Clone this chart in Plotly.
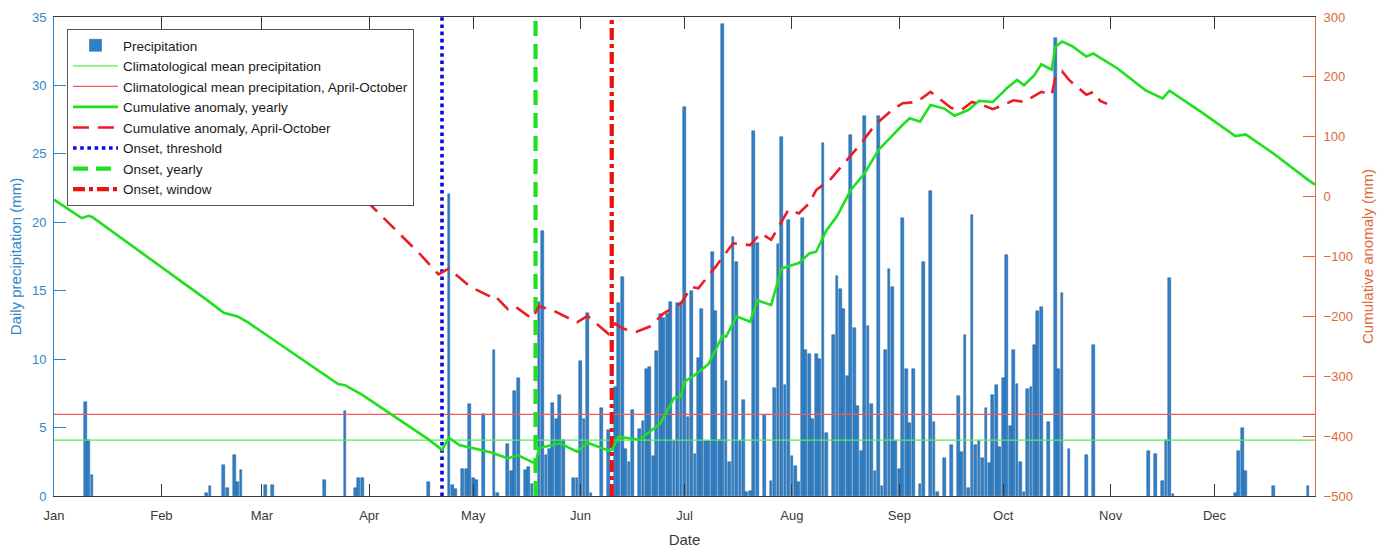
import pandas as pd
import plotly.graph_objects as go

YEAR_START = pd.Timestamp("2016-01-01")

month_labels = ["Jan", "Feb", "Mar", "Apr", "May", "Jun",
                "Jul", "Aug", "Sep", "Oct", "Nov", "Dec"]

# daily precipitation: day offset from 1 January, amount (mm)
rain_day = [9, 10, 11,
            44, 45, 49, 50, 52, 53, 54,
            61, 63, 78, 84, 87, 88, 89,
            108, 114, 115, 116, 118, 119, 120,
            121, 122, 124, 127, 128, 131, 132, 133, 134, 136, 137, 138, 140, 141, 142,
            143, 144, 145, 146, 147, 150, 151,
            152, 153, 154, 155, 158, 160, 162, 163, 164, 165, 166, 167, 169, 170, 171,
            172, 173, 174, 175, 176, 177, 178, 179, 180, 181,
            182, 183, 184, 185, 186, 187, 188, 189, 190, 191, 192, 193, 194, 195, 196,
            197, 198, 199, 200, 201, 202, 203, 205, 207, 208, 209, 210, 211, 212,
            213, 214, 215, 216, 217, 218, 219, 220, 221, 222, 223, 225, 226, 227, 228,
            229, 230, 231, 232, 233, 234, 235, 236, 237, 238, 239, 240, 241, 242, 243,
            244, 245, 246, 247, 248, 250, 251, 253, 254, 255, 257, 259, 261, 262, 263,
            264, 265, 266, 267, 268, 269, 270, 271, 272, 273,
            274, 275, 276, 277, 278, 279, 280, 281, 282, 283, 284, 285, 287, 289, 290,
            291, 293, 298, 300,
            316, 318, 320, 321, 322, 323,
            341, 342, 343, 344, 352, 362]
rain_mm = [6.9, 4.1, 1.5,
           0.2, 0.7, 2.3, 0.6, 3.0, 1.0, 1.9,
           0.8, 0.8, 1.2, 6.2, 0.6, 1.3, 1.3,
           1.0, 22.1, 0.8, 0.5, 2.0, 2.0, 6.7,
           1.3, 1.2, 6.0, 10.7, 0.25, 3.8, 1.8, 7.7, 8.6, 1.9, 2.1, 0.9, 14.2, 19.4, 3.0,
           3.4, 6.8, 5.6, 7.4, 4.1, 1.3, 1.3,
           9.9, 5.6, 13.4, 0.25, 6.4, 4.8, 8.0, 14.1, 16.0, 3.4, 2.5, 6.3, 4.9, 5.5, 9.3,
           9.4, 2.9, 10.6, 13.3, 13.0, 13.3, 14.2, 4.0, 14.1, 14.2,
           28.4, 5.8, 15.0, 3.1, 10.1, 13.7, 4.0, 4.0, 17.8, 13.5, 4.1, 34.5, 8.4, 2.5, 18.9,
           17.1, 4.0, 7.0, 0.3, 0.4, 26.7, 18.5, 5.9, 1.1, 7.9, 18.4, 26.2, 8.1, 20.2,
           2.9, 2.2, 1.0, 20.3, 10.7, 10.4, 5.6, 10.4, 10.0, 25.8, 4.6, 11.8, 16.1, 15.1, 13.7,
           8.8, 26.4, 12.3, 6.6, 3.3, 27.8, 12.4, 6.7, 1.8, 27.8, 0.7, 10.7, 16.6, 15.3, 4.0,
           2.0, 20.3, 9.3, 5.3, 9.3, 0.9, 17.1, 22.3, 5.4, 0.3, 2.8, 3.7, 7.3, 3.2, 11.8,
           0.6, 20.5, 3.7, 4.0, 2.8, 6.4, 2.4, 7.4, 8.1, 3.6,
           8.6, 17.6, 5.1, 10.7, 8.2, 2.5, 0.3, 7.8, 8.0, 11.0, 13.5, 13.8, 5.4, 33.5, 9.3,
           14.8, 3.4, 3.0, 11.0,
           3.3, 3.1, 1.1, 4.1, 15.9, 0.15,
           0.2, 3.3, 5.0, 1.8, 0.7, 0.7]

clim_mean_year = 4.09
clim_mean_aproct = 5.97

# cumulative anomaly, yearly (mm)
cum_year_day = [0, 8, 10, 11, 44, 47, 49, 53, 56, 82, 84, 89, 108, 112, 114, 117, 126,
                131, 134, 139, 140, 146, 151, 154, 160, 161, 163, 169, 173, 175, 179, 181,
                182, 185, 188, 189, 193, 194, 197, 201, 203, 207, 210, 215, 218, 220, 223,
                226, 230, 234, 238, 242, 245, 247, 250, 253, 257, 260, 264, 267, 271, 274,
                275, 278, 280, 283, 285, 288, 289, 291, 294, 298, 300, 307, 315, 320, 322,
                331, 335, 341, 344, 352, 362, 364]
cum_year_mm = [-5, -36, -32, -34, -172, -186, -194, -200, -210, -313, -315, -331, -405,
               -423, -403, -415, -427, -437, -432, -446, -420, -412, -426, -411, -424, -423,
               -401, -406, -387, -379, -336, -334, -309, -298, -284, -279, -232, -234, -200,
               -209, -173, -181, -120, -111, -95, -92, -56, -33, 11, 39, 78, 103, 120, 131,
               125, 153, 147, 135, 145, 160, 158, 175, 181, 195, 186, 203, 221, 212, 250,
               259, 251, 234, 239, 214, 178, 164, 177, 142, 126, 101, 104, 72, 28, 20]

# cumulative anomaly, April-October (mm)
cum_ao_day = [90, 106, 111, 114, 120, 126, 127, 131, 133, 138, 140, 144, 151, 154, 160,
              162, 164, 168, 172, 176, 181, 184, 186, 191, 196, 201, 204, 207, 212, 215,
              218, 220, 224, 229, 233, 237, 242, 245, 249, 253, 255, 259, 262, 265, 268,
              271, 274, 277, 280, 285, 288, 289, 291, 293, 298, 300, 302, 304]
cum_ao_mm = [-6, -98, -130, -120, -150, -167, -164, -188, -183, -204, -183, -190, -210,
             -199, -229, -212, -220, -226, -217, -195, -178, -151, -153, -117, -78, -81,
             -61, -72, -22, -28, -11, 11, 28, 61, 89, 120, 145, 156, 158, 175, 166, 148,
             145, 158, 153, 146, 153, 161, 158, 175, 170, 198, 209, 195, 170, 175, 160, 155]

onset_threshold_day = 112
onset_yearly_day = 139
onset_window_day = 161

first_day, last_day = 0, 364

left_ticks = [0, 5, 10, 15, 20, 25, 30, 35]
right_ticks = [-500, -400, -300, -200, -100, 0, 100, 200, 300]


def to_dates(days):
    return YEAR_START + pd.to_timedelta(days, unit="D")


month_starts = [pd.Timestamp(2016, m, 1) for m in range(1, 13)]
x_first = to_dates([first_day])[0]
x_last = to_dates([last_day])[0]

FONT = "Arial, Liberation Sans, Helvetica, sans-serif"
BLUE_AX = "#2f86c9"
ORANGE_AX = "#dd6a3a"
GRAY = "#3a3a3a"

fig = go.Figure()

fig.add_trace(go.Bar(
    x=to_dates(rain_day), y=rain_mm, name="Precipitation",
    width=0.8 * 86400000,
    marker=dict(color="#2f80c8", line=dict(color="#1f5d94", width=0.5)),
    yaxis="y"))

fig.add_trace(go.Scatter(
    x=[x_first, x_last], y=[clim_mean_year, clim_mean_year], mode="lines",
    name="Climatological mean precipitation",
    line=dict(color="#55ee55", width=1.2), yaxis="y"))

fig.add_trace(go.Scatter(
    x=[x_first, x_last], y=[clim_mean_aproct, clim_mean_aproct], mode="lines",
    name="Climatological mean precipitation, April-October",
    line=dict(color="#f05a5a", width=1.2), yaxis="y"))

fig.add_trace(go.Scatter(
    x=to_dates(cum_year_day), y=cum_year_mm, mode="lines",
    name="Cumulative anomaly, yearly",
    line=dict(color="#1fe01f", width=2.6), yaxis="y2"))

fig.add_trace(go.Scatter(
    x=to_dates(cum_ao_day), y=cum_ao_mm, mode="lines",
    name="Cumulative anomaly, April-October",
    line=dict(color="#ec1c24", width=2.6, dash="16px,9px"), yaxis="y2"))

for day, name, color, dash, w in [
        (onset_threshold_day, "Onset, threshold", "#0a0ae6", "dot", 3.6),
        (onset_yearly_day, "Onset, yearly", "#1fe01f", "15px,8px", 4.2),
        (onset_window_day, "Onset, window", "#ee1111", "12px,4px,4px,4px", 4.2)]:
    d = to_dates([day])[0]
    fig.add_trace(go.Scatter(
        x=[d, d], y=[left_ticks[0], left_ticks[-1]], mode="lines", name=name,
        line=dict(color=color, width=w, dash=dash), yaxis="y"))

fig.update_layout(
    width=1395, height=548,
    margin=dict(l=54, r=80, t=17, b=52, autoexpand=False),
    paper_bgcolor="white", plot_bgcolor="white",
    font=dict(family=FONT, size=13, color=GRAY),
    bargap=0,
    showlegend=True,
    legend=dict(x=0.0103, y=0.975, xanchor="left", yanchor="top",
                bgcolor="white", bordercolor="#555555", borderwidth=1,
                font=dict(family=FONT, size=13.5, color="#1a1a1a"),
                itemwidth=45, tracegroupgap=0),
    xaxis=dict(
        type="date", range=[x_first, x_last], automargin=False,
        tickmode="array", tickvals=month_starts, ticktext=month_labels,
        ticks="inside", ticklen=12, tickcolor=GRAY, tickwidth=1,
        showline=True, linecolor=GRAY, linewidth=1, mirror="ticks",
        showgrid=False, zeroline=False,
        tickfont=dict(size=13, color=GRAY),
        ticklabelstandoff=7,
        title=dict(text="Date", font=dict(size=15, color=GRAY), standoff=12)),
    yaxis=dict(
        range=[0, 35], tickvals=left_ticks, automargin=False,
        ticks="inside", ticklen=12, tickcolor=BLUE_AX, tickwidth=1,
        showline=True, linecolor=BLUE_AX, linewidth=1,
        showgrid=False, zeroline=False,
        tickfont=dict(size=13, color=BLUE_AX),
        ticklabelstandoff=4,
        title=dict(text="Daily precipitation (mm)",
                   font=dict(size=15, color=BLUE_AX), standoff=6)),
    yaxis2=dict(
        range=[-500, 300], tickvals=right_ticks, automargin=False,
        overlaying="y", side="right", anchor="x",
        ticks="inside", ticklen=12, tickcolor=ORANGE_AX, tickwidth=1,
        showline=True, linecolor=ORANGE_AX, linewidth=1,
        showgrid=False, zeroline=False,
        tickfont=dict(size=13, color=ORANGE_AX),
        ticklabelstandoff=5,
        title=dict(text="Cumulative anomaly (mm)",
                   font=dict(size=15, color=ORANGE_AX), standoff=10)),
)

fig.write_html("out.html", config={"displayModeBar": False},
               post_script="document.body.style.margin='0';document.body.style.overflow='hidden';")
